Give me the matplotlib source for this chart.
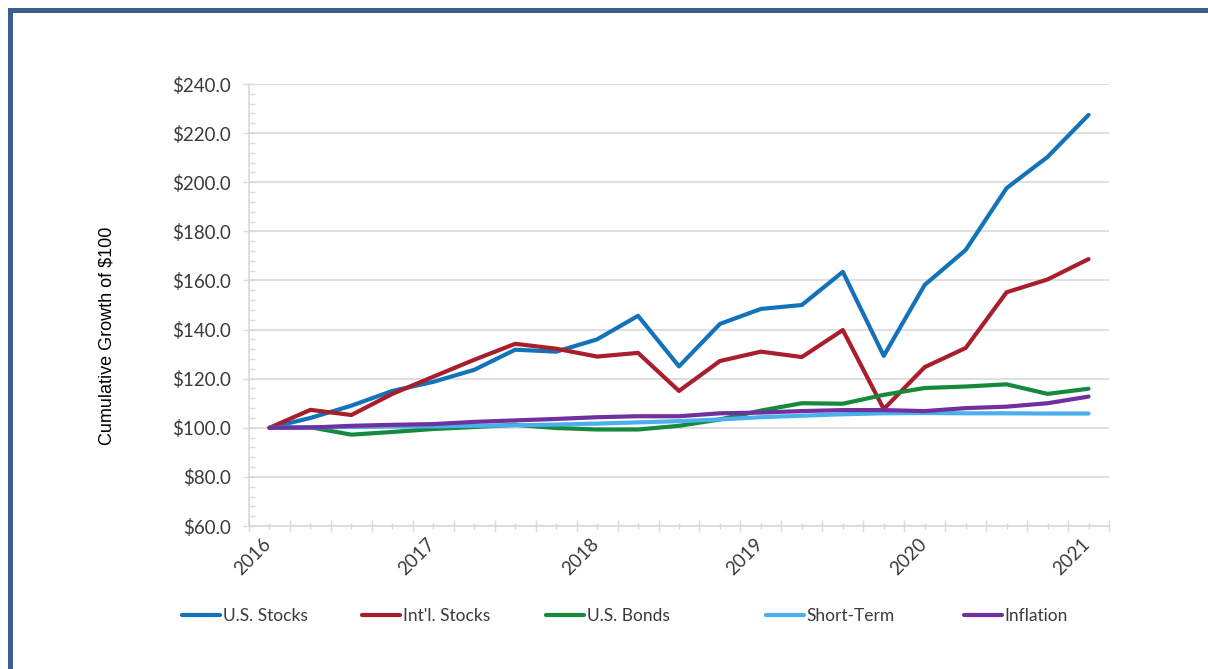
import numpy as np
import matplotlib
matplotlib.use("Agg")
import matplotlib.pyplot as plt
from matplotlib.patches import Rectangle
from matplotlib.lines import Line2D
import matplotlib.transforms as mtransforms

# ---------------- data ----------------
years = ["2016", "2017", "2018", "2019", "2020", "2021"]
n_quarters = 21

us_stocks = [100, 104, 109, 115, 118.7, 123.6, 131.8, 131, 136, 145.6, 125,
             142.3, 148.4, 150, 163.5, 129.3, 158.2, 172.4, 197.6, 210.3, 227.4]
intl_stocks = [100, 107.3, 105.2, 113.8, 120.8, 127.7, 134.2, 132.2, 129, 130.5, 115,
               127.2, 131, 128.8, 139.8, 107.6, 124.7, 132.5, 155.2, 160.4, 168.7]
us_bonds = [100, 100.2, 97.2, 98.3, 99.5, 100.3, 101.2, 99.9, 99.3, 99.3, 100.8,
            103.4, 107, 110, 109.8, 113.4, 116.2, 116.8, 117.7, 113.8, 115.9]
short_term = [100, 100.2, 100.3, 100.5, 100.6, 100.8, 101, 101.3, 101.7, 102.2, 102.7,
              103.4, 104.3, 104.9, 105.5, 105.9, 106.0, 105.9, 105.9, 105.8, 105.8]
inflation = [100, 100.1, 100.8, 101.2, 101.5, 102.4, 103, 103.6, 104.3, 104.7, 104.7,
             105.9, 106.2, 106.8, 107.2, 107.2, 106.8, 108, 108.6, 110, 112.7]

series_names = ["U.S. Stocks", "Int'l. Stocks", "U.S. Bonds", "Short-Term", "Inflation"]
series_values = [us_stocks, intl_stocks, us_bonds, short_term, inflation]
colors = ["#1273BA", "#A81F2B", "#168A3C", "#4AB0EC", "#7030A0"]

y_ticks = [60, 80, 100, 120, 140, 160, 180, 200, 220, 240]
y_label = "Cumulative Growth of $100"

# ---------------- figure ----------------
W, H = 1208, 669
fig = plt.figure(figsize=(W / 100, H / 100), dpi=100)
fig.patch.set_facecolor("white")
ax = fig.add_axes([249 / W, 1 - 526 / H, (1109 - 249) / W, (526 - 84) / H])

x = np.arange(n_quarters)
lines = []
for name, vals, c in zip(series_names, series_values, colors):
    ln, = ax.plot(x, vals, color=c, lw=3.0, solid_capstyle="round",
                  solid_joinstyle="round", label=name)
    lines.append(ln)

ax.set_xlim(-0.5, n_quarters - 0.5)
ax.set_ylim(60, 240)

grid_c = "#D9D9D9"
text_c = "#3A3A3A"
tick_font = "Lato"
tick_size = 13.5

# y axis
ax.set_yticks(y_ticks)
ax.set_yticklabels([f"${v:.1f}" for v in y_ticks], fontsize=tick_size, family=tick_font, color=text_c)
ax.set_yticks(np.arange(60, 241, 4), minor=True)
ax.yaxis.grid(True, which="major", color=grid_c, lw=1.2)
ax.tick_params(axis="y", which="major", direction="inout", length=8.5, width=1,
               color=grid_c, pad=9)
ax.tick_params(axis="y", which="minor", direction="in", length=4, width=1, color=grid_c)

# x axis: major ticks at category boundaries, minor at categories (labelled)
ax.set_xticks(np.arange(-0.5, n_quarters, 1))
ax.set_xticklabels([])
labels = [years[i // 4] if i % 4 == 0 else "" for i in range(n_quarters)]
ax.set_xticks(x, minor=True)
ax.set_xticklabels(labels, minor=True, rotation=45, ha="right", va="top",
                   fontsize=tick_size, family=tick_font, color=text_c)
ax.tick_params(axis="x", which="major", direction="inout", length=9, width=1, color=grid_c)
ax.tick_params(axis="x", which="minor", direction="inout", length=5, width=1,
               color=grid_c, pad=4)
offset = mtransforms.ScaledTranslation(5 / 100, 0, fig.dpi_scale_trans)
for lab in ax.xaxis.get_minorticklabels():
    lab.set_transform(lab.get_transform() + offset)

for s in ["top", "right"]:
    ax.spines[s].set_visible(False)
for s in ["left", "bottom"]:
    ax.spines[s].set_color(grid_c)
    ax.spines[s].set_linewidth(1.2)

fig.text(107 / W, 1 - 336 / H, y_label, rotation=90, ha="center", va="center",
         fontsize=13, family="Liberation Sans", color="black")

# legend entries placed individually
leg_x = [182, 362, 546, 766, 964]
for ln, lx in zip(lines, leg_x):
    h = Line2D([], [], color=ln.get_color(), lw=3.0, solid_capstyle="round")
    leg = fig.legend(handles=[h], labels=[ln.get_label()], loc="center left",
                     bbox_to_anchor=(lx / W, 1 - 616 / H), frameon=False,
                     handlelength=2.2, handletextpad=0.15, borderpad=0, borderaxespad=0,
                     prop={"family": tick_font, "size": 12.5})
    for t in leg.get_texts():
        t.set_color(text_c)

# outer frame
frame_c = "#3B5F8F"
fig.add_artist(Rectangle((8 / W, 1 - 13 / H), 1 - 8 / W, 5 / H, transform=fig.transFigure,
                         color=frame_c, lw=0))
fig.add_artist(Rectangle((8 / W, 0), 5 / W, 1 - 8 / H, transform=fig.transFigure,
                         color=frame_c, lw=0))

fig.savefig("out.png", dpi=100, facecolor="white")
